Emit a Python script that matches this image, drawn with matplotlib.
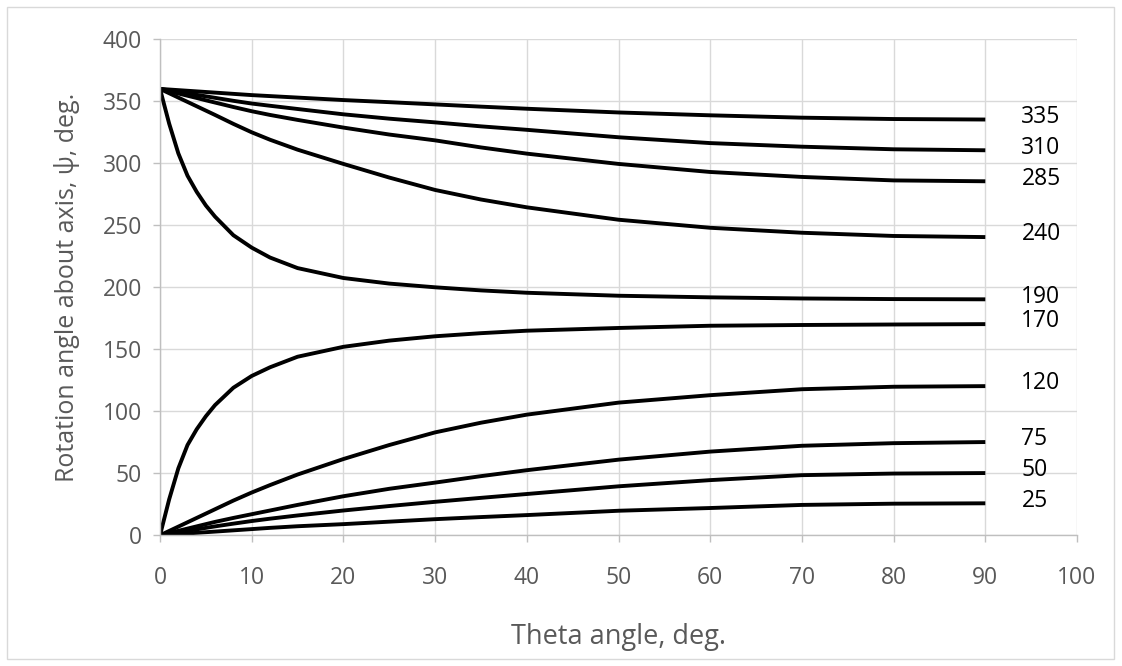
import matplotlib
matplotlib.use("Agg")
import matplotlib.pyplot as plt
from matplotlib.patches import Rectangle

# theta angle, deg.
theta = [0, 1, 2, 3, 4, 5, 6, 8, 10, 12, 15, 20, 25, 30, 35, 40, 50, 60, 70, 80, 90]

# rotation angle psi for each final value
psi_335 = [360, 359.5, 359, 358.5, 358, 357.5, 357, 356, 355, 354.2, 353, 351, 349.3, 347.5, 345.7, 344, 341, 338.7, 336.8, 335.7, 335.3]
psi_310 = [360, 358.8, 357.6, 356.4, 355.2, 354, 352.8, 350.4, 348.2, 346.4, 343.8, 339.5, 336, 333, 329.8, 327, 321, 316.3, 313.4, 311.3, 310.5]
psi_285 = [360, 358.2, 356.3, 354.5, 352.7, 350.8, 349, 345.4, 342, 339, 335, 328.8, 323.2, 318.5, 312.8, 307.8, 299.5, 293, 289, 286.2, 285.5]
psi_240 = [360, 356.5, 353, 349.5, 346, 342.5, 339, 331.8, 325, 319, 311, 299.5, 288.5, 278.5, 270.8, 264.5, 254.5, 248, 244, 241.4, 240.5]
psi_190 = [360, 332, 308, 290, 277, 266, 257, 242, 232, 224, 215.5, 207.5, 203, 200, 197.5, 195.6, 193.2, 191.9, 191, 190.5, 190.3]
psi_170 = [0, 29, 54, 72.8, 85.5, 96, 105, 119, 128.5, 135.5, 144, 152, 157, 160.5, 163, 165, 167.2, 169, 169.6, 170, 170.3]
psi_120 = [0, 3.5, 7, 10.5, 14, 17.5, 21, 28, 34.5, 40.5, 49, 61.5, 72.8, 83, 90.8, 97.3, 107, 113, 117.8, 119.8, 120.3]
psi_75 = [0, 1.8, 3.6, 5.4, 7.2, 9, 10.8, 14, 17, 20, 24.5, 31.5, 37.5, 42.5, 47.7, 52.5, 61, 67.5, 72.2, 74.3, 75.2]
psi_50 = [0, 1.2, 2.4, 3.6, 4.8, 6, 7.2, 9.4, 11.5, 13.4, 16, 20, 23.6, 27, 30.2, 33.3, 39.5, 44.5, 48.5, 49.8, 50.2]
psi_25 = [0, 0.5, 1, 1.5, 2, 2.5, 3, 4, 5, 6, 7.3, 9, 11, 13, 14.7, 16.3, 19.8, 22, 24.5, 25.5, 25.8]

series = [psi_335, psi_310, psi_285, psi_240, psi_190,
          psi_170, psi_120, psi_75, psi_50, psi_25]
labels = ["335", "310", "285", "240", "190", "170", "120", "75", "50", "25"]

plt.rcParams["font.family"] = ["Open Sans", "DejaVu Sans"]

fig = plt.figure(figsize=(11.22, 6.66), dpi=100)
fig.patch.set_facecolor("white")
fig.patches.append(Rectangle((7 / 1122, 7 / 666), 1107 / 1122, 652 / 666,
                             transform=fig.transFigure, fill=False,
                             edgecolor="#d9d9d9", linewidth=1.0))

ax = fig.add_axes([160 / 1122, 1 - 535.3 / 666, 917 / 1122, 496 / 666])

for vals, lab in zip(series, labels):
    ax.plot(theta, vals, color="black", linewidth=2.8,
            solid_capstyle="butt", solid_joinstyle="round")
    ax.annotate(lab, (theta[-1], vals[-1]), xytext=(26, 2),
                textcoords="offset points", ha="left", va="center",
                fontsize=16.5, color="black")

ax.set_xlim(0, 100)
ax.set_ylim(0, 400)
ax.set_xticks(range(0, 101, 10))
ax.set_yticks(range(0, 401, 50))
ax.grid(True, color="#d9d9d9", linewidth=1.0)
ax.set_axisbelow(True)

for side in ("top", "right"):
    ax.spines[side].set_visible(False)
for side in ("left", "bottom"):
    ax.spines[side].set_color("#bfbfbf")
    ax.spines[side].set_linewidth(1.0)

ax.tick_params(axis="both", colors="#bfbfbf", labelcolor="#595959",
               labelsize=16.5, length=5, width=1.0)
ax.tick_params(axis="x", pad=17)
ax.tick_params(axis="y", pad=8)

ax.set_xlabel("Theta angle, deg.", fontsize=19.5, color="#595959", labelpad=24)
ax.set_ylabel("Rotation angle about axis, \u03c8, deg.", fontsize=18,
              color="#595959", labelpad=16)

fig.savefig("out.png", dpi=100)
